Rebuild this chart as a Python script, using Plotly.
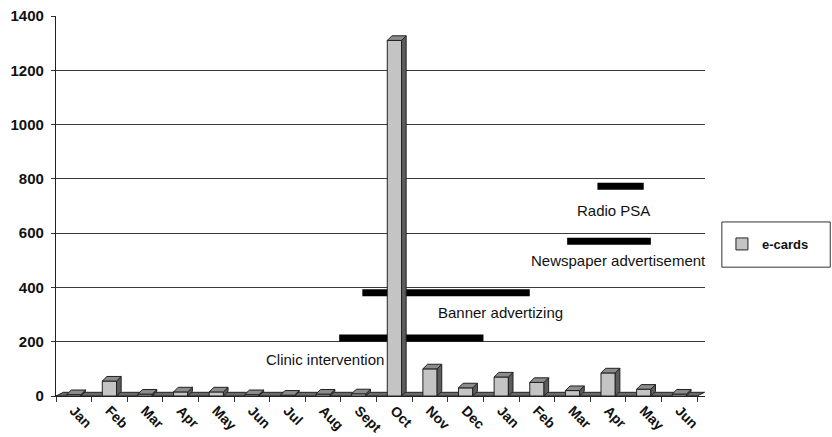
import plotly.graph_objects as go

# Monthly e-card counts (18 months, Jan .. Jun of the following year)
months = ["Jan", "Feb", "Mar", "Apr", "May", "Jun", "Jul", "Aug", "Sept",
          "Oct", "Nov", "Dec", "Jan", "Feb", "Mar", "Apr", "May", "Jun"]
ecards = [5, 55, 7, 15, 15, 5, 3, 7, 8, 1310, 100, 30, 70, 50, 20, 85, 25, 7]

# Campaign periods (in month-index units) and their level on the value axis
campaigns = ["Clinic intervention", "Banner advertizing",
             "Newspaper advertisement", "Radio PSA"]
camp_start = [7.45, 8.1, 13.85, 14.7]
camp_end = [11.5, 12.8, 16.2, 16.0]
camp_level = [214, 380, 570, 773]

# Where each campaign caption sits
label_x = [7.06, 11.97, 15.29, 15.15]
label_y = [133, 306, 501, 685]

FONT = "Arial, Liberation Sans, sans-serif"
BAR_W = 0.4
DX, DY = 0.13, 17          # depth offset of the pseudo-3D faces

x_idx = list(range(len(months)))

fig = go.Figure()

# front faces of the columns
fig.add_trace(go.Bar(
    x=x_idx, y=ecards, width=BAR_W, name="e-cards",
    marker=dict(color="#c4c4c4", line=dict(color="#222222", width=1)),
))

# side and top faces, built from the same values
side_x, side_y, top_x, top_y = [], [], [], []
for i, v in zip(x_idx, ecards):
    r = i + BAR_W / 2
    l = i - BAR_W / 2
    side_x += [r, r, r + DX, r + DX, r, None]
    side_y += [0, v, v + DY, DY, 0, None]
    top_x += [l, l + DX, r + DX, r, l, None]
    top_y += [v, v + DY, v + DY, v, v, None]

fig.add_trace(go.Scatter(
    x=side_x, y=side_y, mode="lines", fill="toself", fillcolor="#5c5c5c",
    line=dict(color="#222222", width=1), showlegend=False, hoverinfo="skip",
))
fig.add_trace(go.Scatter(
    x=top_x, y=top_y, mode="lines", fill="toself", fillcolor="#8c8c8c",
    line=dict(color="#222222", width=1), showlegend=False, hoverinfo="skip",
))

shapes = []
# floor slab under the columns
shapes.append(dict(
    type="path", xref="x", yref="y", layer="between",
    path=f"M -0.5,0 L 17.5,0 L {17.5 + DX * 1.6},{DY * 0.8} L {-0.5 + DX * 1.6},{DY * 0.8} Z",
    fillcolor="#6a6a6a", line=dict(color="#222222", width=1),
))
# campaign bars
for s, e, lv in zip(camp_start, camp_end, camp_level):
    shapes.append(dict(
        type="line", xref="x", yref="y", x0=s, x1=e, y0=lv, y1=lv,
        line=dict(color="black", width=7), layer="between",
    ))
# legend frame
shapes.append(dict(
    type="rect", xref="paper", yref="paper",
    x0=1.026, x1=1.193, y0=0.339, y1=0.458,
    line=dict(color="#333333", width=1), fillcolor="white",
))

annotations = [
    dict(x=lx, y=ly, text=t, showarrow=False, xref="x", yref="y",
         font=dict(family=FONT, size=15, color="#111111"))
    for t, lx, ly in zip(campaigns, label_x, label_y)
]

fig.update_layout(
    width=832, height=437,
    margin=dict(l=56, r=127, t=16, b=41, autoexpand=False),
    paper_bgcolor="white", plot_bgcolor="white",
    barmode="overlay",
    shapes=shapes, annotations=annotations,
    showlegend=True,
    legend=dict(
        x=1.097, y=0.40, xanchor="center", yanchor="middle",
        bgcolor="rgba(0,0,0,0)", borderwidth=0,
        font=dict(family=FONT, size=13, color="#111111", weight="bold"),
    ),
    xaxis=dict(
        range=[-0.5, 17.72], automargin=False,
        tickvals=x_idx, ticktext=months, tickangle=45,
        ticks="", showgrid=False, zeroline=False,
        showline=True, linecolor="#222222", linewidth=1,
        tickfont=dict(family=FONT, size=14, color="#111111", weight="bold"),
        minor=dict(ticks="outside", tick0=-0.5, dtick=1, ticklen=5,
                   tickcolor="#333333", showgrid=False),
    ),
    yaxis=dict(
        range=[0, 1400], automargin=False,
        tickvals=[0, 200, 400, 600, 800, 1000, 1200, 1400],
        showgrid=True, gridcolor="#3a3a3a", gridwidth=1.3,
        zeroline=False, showline=True, linecolor="#222222", linewidth=1.3,
        ticks="outside", ticklen=4, tickcolor="#333333", ticklabelstandoff=4,
        tickfont=dict(family=FONT, size=15, color="#111111", weight="bold"),
    ),
)

fig.write_html("out.html")
